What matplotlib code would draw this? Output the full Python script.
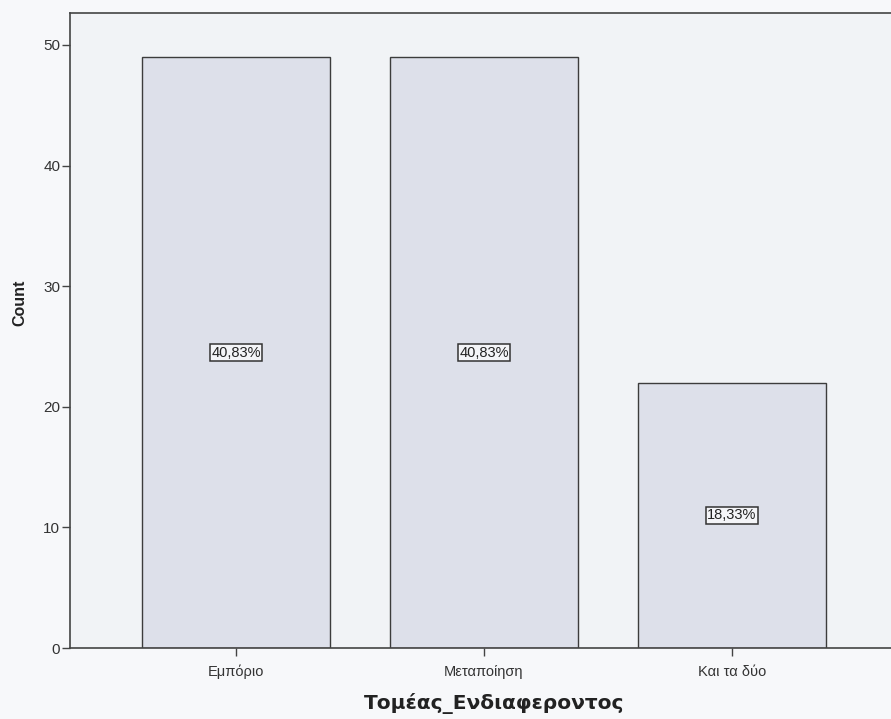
import matplotlib
matplotlib.use("Agg")
import matplotlib.pyplot as plt

categories = ["Εμπόριο", "Μεταποίηση", "Και τα δύο"]
counts = [49, 49, 22]
pct_labels = ["40,83%", "40,83%", "18,33%"]
yticks = [0, 10, 20, 30, 40, 50]

plt.rcParams['font.family'] = ['Liberation Sans', 'DejaVu Sans']

fig = plt.figure(figsize=(8.91, 7.19), dpi=100, facecolor="#f7f8fa")
ax = fig.add_axes([0.0786, 0.0987, 0.929, 0.8832])
ax.set_facecolor("#f1f3f6")

x = list(range(len(categories)))
ax.bar(x, counts, width=0.76, color="#dde0ea", edgecolor="#3c3c3c", linewidth=1.0, zorder=2)

for xi, c, lab in zip(x, counts, pct_labels):
    ax.text(xi, c / 2, lab, ha="center", va="center", fontsize=10.5, color="#222222",
            bbox=dict(boxstyle="square,pad=0.08", facecolor="#f4f5f8", edgecolor="#333333", linewidth=1.1),
            zorder=3)

ax.set_xlim(-0.67, 2.67)
ax.set_ylim(0, 52.65)
ax.set_yticks(yticks)
ax.set_yticklabels([str(t) for t in yticks], fontsize=11, color="#333333")
ax.set_xticks(x)
ax.set_xticklabels(categories, fontsize=10.5, color="#333333")
ax.tick_params(axis="y", length=6, width=1.0, color="#444444", pad=1)
ax.tick_params(axis="x", length=6, width=1.0, color="#444444", pad=6)

for s in ["left", "top", "bottom"]:
    ax.spines[s].set_color("#444444")
    ax.spines[s].set_linewidth(1.2)
ax.spines["right"].set_visible(False)

ax.set_ylabel("Count", fontsize=11.5, fontweight="bold", color="#222222")
ax.yaxis.set_label_coords(-0.052, 0.543)
ax.set_xlabel("Τομέας_Ενδιαφεροντος", fontsize=14.5, fontweight="bold", color="#222222",
              family=["DejaVu Sans"])
ax.xaxis.set_label_coords(0.512, -0.071)

fig.savefig("out.png", dpi=100, facecolor=fig.get_facecolor())
